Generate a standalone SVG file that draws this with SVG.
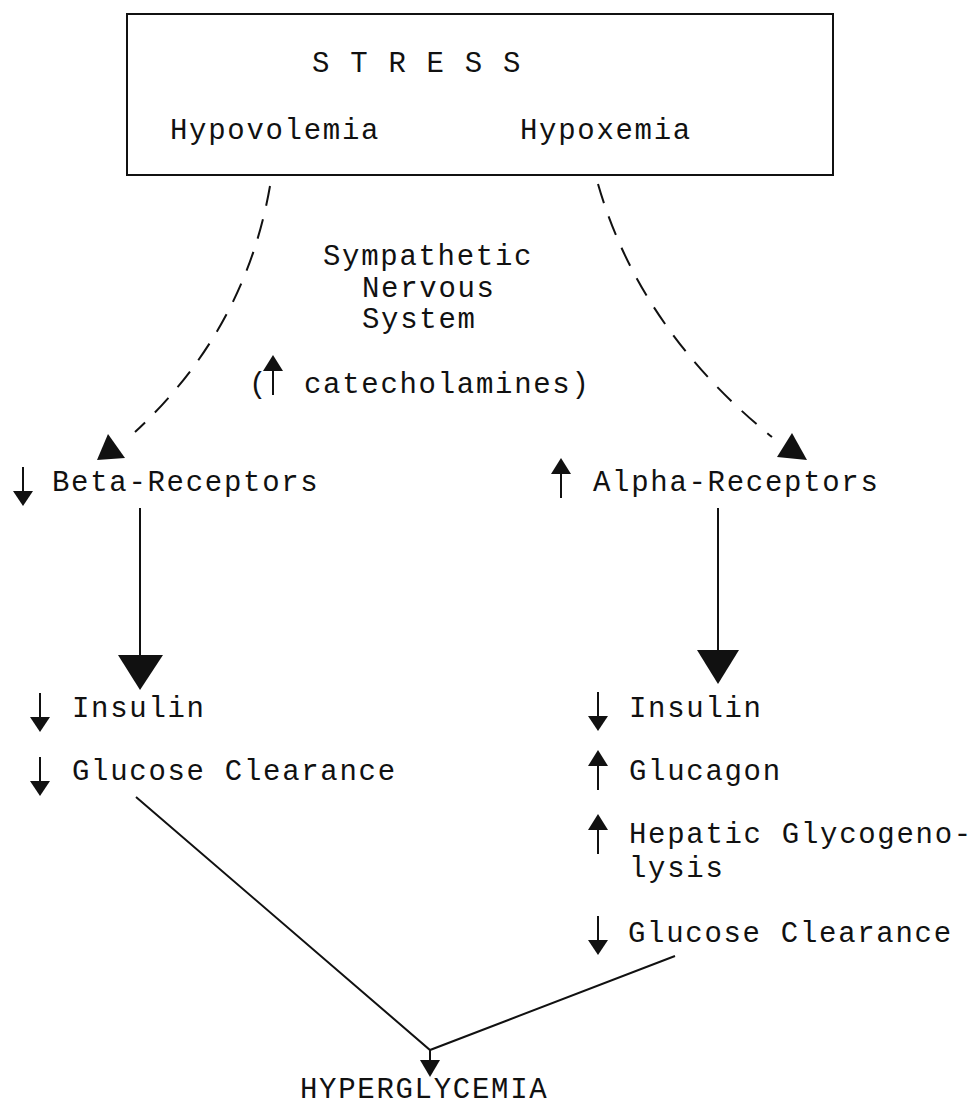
<svg xmlns="http://www.w3.org/2000/svg" xmlns:xlink="http://www.w3.org/1999/xlink" width="978" height="1106" viewBox="0 0 978 1106">
<style>
text{font-family:"Liberation Mono","Courier New",monospace;font-size:29px;letter-spacing:1.7px;fill:#111}
.ln{stroke:#111;stroke-width:2;fill:none}
.dash{stroke:#111;stroke-width:2;fill:none;stroke-dasharray:20 14}
.hd{fill:#111;stroke:none}
</style>
<defs>
<g id="dn"><line x1="0" y1="0" x2="0" y2="26" stroke="#111" stroke-width="2"/><polygon points="-10,24 10,24 0,39" fill="#111"/></g>
<g id="up"><polygon points="-10,16 10,16 0,0" fill="#111"/><line x1="0" y1="14" x2="0" y2="40" stroke="#111" stroke-width="2"/></g>
</defs>
<g id="stress">
<rect x="127" y="14" width="706" height="161" class="ln"/>
<text x="312" y="72">S T R E S S</text>
<text x="170" y="139">Hypovolemia</text>
<text x="520" y="139">Hypoxemia</text>
</g>
<g id="sns">
<text x="323" y="265">Sympathetic</text>
<text x="362" y="297">Nervous</text>
<text x="362" y="328">System</text>
<text x="249" y="393">(</text>
<use xlink:href="#up" x="273" y="355"/>
<text x="304" y="393">catecholamines)</text>
</g>
<g id="beta">
<use xlink:href="#dn" x="23" y="467"/>
<text x="52" y="491">Beta-Receptors</text>
</g>
<g id="alpha">
<use xlink:href="#up" x="561" y="458"/>
<text x="593" y="491">Alpha-Receptors</text>
</g>
<g id="left-effects">
<use xlink:href="#dn" x="40" y="693"/>
<text x="72" y="717">Insulin</text>
<use xlink:href="#dn" x="40" y="757"/>
<text x="72" y="780">Glucose Clearance</text>
</g>
<g id="right-effects">
<use xlink:href="#dn" x="598" y="692"/>
<text x="629" y="717">Insulin</text>
<use xlink:href="#up" x="598" y="750"/>
<text x="629" y="780">Glucagon</text>
<use xlink:href="#up" x="598" y="814"/>
<text x="629" y="843">Hepatic Glycogeno-</text>
<text x="629" y="877">lysis</text>
<use xlink:href="#dn" x="598" y="916"/>
<text x="628" y="942">Glucose Clearance</text>
</g>
<g id="hyperglycemia">
<text x="300" y="1098">HYPERGLYCEMIA</text>
</g>
<g id="connectors">
<path class="dash" d="M270 186 Q245 330 135 432"/>
<polygon class="hd" points="97,460 125,458 108,434"/>
<path class="dash" d="M598 184 Q640 330 772 437"/>
<polygon class="hd" points="777,457 807,460 792,433"/>
<line class="ln" x1="140" y1="508" x2="140" y2="660"/>
<polygon class="hd" points="118,655 163,655 140,690"/>
<line class="ln" x1="718" y1="508" x2="718" y2="655"/>
<polygon class="hd" points="697,650 739,650 718,684"/>
<polyline class="ln" points="136,797 430,1050 675,956"/>
<line class="ln" x1="430" y1="1050" x2="430" y2="1062"/>
<polygon class="hd" points="420,1060 440,1060 430,1077"/>
</g>
</svg>
